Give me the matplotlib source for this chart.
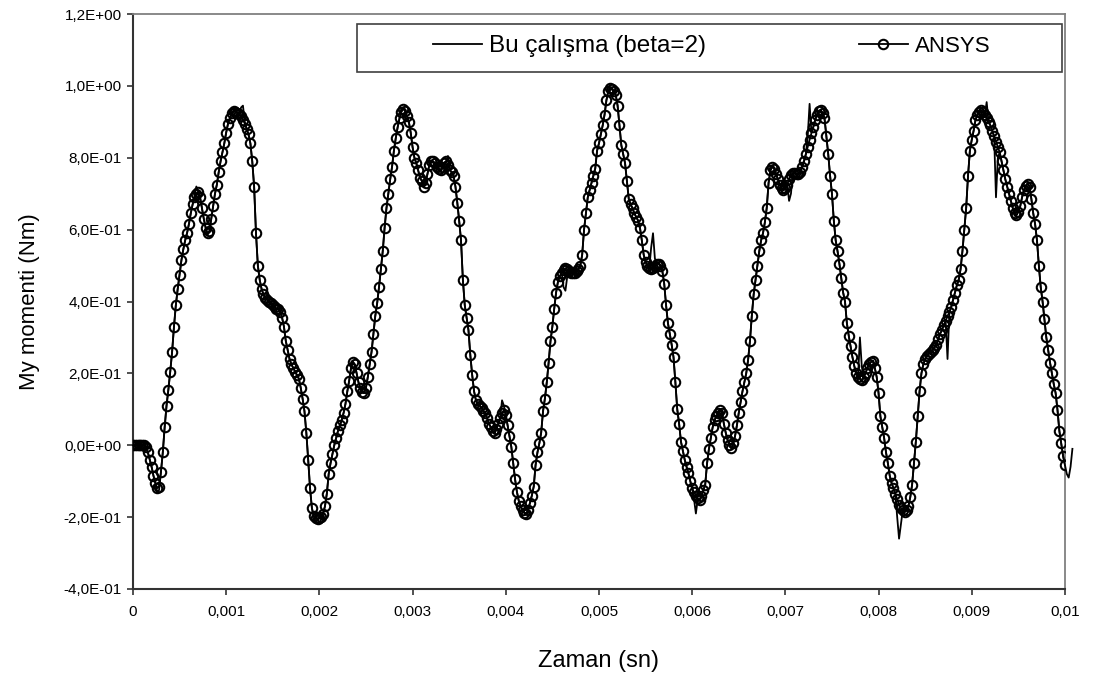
import numpy as np
import matplotlib
matplotlib.use('Agg')
import matplotlib.pyplot as plt
from matplotlib.ticker import FuncFormatter, MultipleLocator
from matplotlib.patches import Rectangle

plt.rcParams['font.family'] = ['Liberation Sans', 'DejaVu Sans']

dt = 2e-5  # zaman adımı (sn)

# ANSYS sonuçları, My momenti (Nm)
ansys_my = [
    0, 0, 0, 0, 0, 0, 0, -0.005, -0.02, -0.04,
    -0.06, -0.085, -0.105, -0.118, -0.115, -0.075, -0.02, 0.05, 0.11, 0.155,
    0.205, 0.26, 0.33, 0.39, 0.435, 0.475, 0.515, 0.545, 0.57, 0.59,
    0.615, 0.645, 0.67, 0.69, 0.70, 0.705, 0.69, 0.66, 0.63, 0.605,
    0.59, 0.595, 0.63, 0.665, 0.70, 0.725, 0.76, 0.79, 0.815, 0.84,
    0.87, 0.895, 0.91, 0.925, 0.93, 0.928, 0.925, 0.922, 0.915, 0.905,
    0.895, 0.88, 0.865, 0.84, 0.79, 0.72, 0.59, 0.50, 0.46, 0.435,
    0.42, 0.41, 0.405, 0.40, 0.395, 0.39, 0.385, 0.38, 0.378, 0.372,
    0.355, 0.33, 0.29, 0.265, 0.24, 0.225, 0.215, 0.205, 0.195, 0.185,
    0.16, 0.13, 0.095, 0.035, -0.04, -0.12, -0.175, -0.198, -0.203, -0.205,
    -0.203, -0.2, -0.19, -0.17, -0.135, -0.08, -0.05, -0.025, 0.0, 0.02,
    0.04, 0.055, 0.07, 0.09, 0.115, 0.15, 0.18, 0.215, 0.232, 0.225,
    0.2, 0.175, 0.16, 0.148, 0.145, 0.16, 0.19, 0.225, 0.26, 0.31,
    0.36, 0.395, 0.44, 0.49, 0.54, 0.605, 0.66, 0.70, 0.74, 0.775,
    0.82, 0.855, 0.885, 0.91, 0.928, 0.937, 0.93, 0.915, 0.9, 0.87,
    0.83, 0.8, 0.785, 0.765, 0.745, 0.735, 0.72, 0.73, 0.755, 0.78,
    0.79, 0.79, 0.785, 0.775, 0.77, 0.765, 0.775, 0.785, 0.79, 0.78,
    0.765, 0.76, 0.75, 0.72, 0.675, 0.625, 0.57, 0.46, 0.39, 0.355,
    0.32, 0.25, 0.195, 0.15, 0.125, 0.115, 0.11, 0.105, 0.095, 0.09,
    0.075, 0.06, 0.05, 0.04, 0.033, 0.045, 0.06, 0.075, 0.09, 0.098,
    0.085, 0.055, 0.025, -0.005, -0.05, -0.095, -0.13, -0.155, -0.17, -0.18,
    -0.188, -0.19, -0.18, -0.16, -0.14, -0.115, -0.055, -0.02, 0.005, 0.035,
    0.095, 0.13, 0.175, 0.23, 0.29, 0.33, 0.38, 0.425, 0.455, 0.47,
    0.48, 0.488, 0.492, 0.49, 0.485, 0.48, 0.478, 0.48, 0.485, 0.49,
    0.5, 0.53, 0.6, 0.645, 0.69, 0.71, 0.73, 0.75, 0.77, 0.82,
    0.84, 0.865, 0.89, 0.92, 0.96, 0.985, 0.993, 0.99, 0.985, 0.975,
    0.945, 0.89, 0.835, 0.81, 0.785, 0.735, 0.685, 0.67, 0.66, 0.645,
    0.635, 0.625, 0.605, 0.57, 0.53, 0.51, 0.5, 0.493, 0.49, 0.492,
    0.5, 0.505, 0.505, 0.5, 0.485, 0.45, 0.39, 0.34, 0.31, 0.28,
    0.245, 0.175, 0.1, 0.06, 0.01, -0.015, -0.04, -0.06, -0.078, -0.1,
    -0.12, -0.13, -0.14, -0.148, -0.152, -0.14, -0.125, -0.11, -0.05, -0.01,
    0.02, 0.05, 0.07, 0.08, 0.09, 0.097, 0.09, 0.06, 0.035, 0.015,
    0.0, -0.008, 0.005, 0.025, 0.055, 0.09, 0.12, 0.15, 0.175, 0.2,
    0.237, 0.29, 0.36, 0.42, 0.46, 0.5, 0.54, 0.57, 0.59, 0.62,
    0.66, 0.73, 0.765, 0.775, 0.77, 0.755, 0.74, 0.725, 0.715, 0.71,
    0.715, 0.725, 0.74, 0.752, 0.757, 0.757, 0.755, 0.755, 0.76, 0.775,
    0.79, 0.81, 0.83, 0.85, 0.868, 0.885, 0.905, 0.92, 0.93, 0.932,
    0.925, 0.91, 0.86, 0.81, 0.75, 0.7, 0.625, 0.57, 0.54, 0.505,
    0.465, 0.425, 0.4, 0.34, 0.305, 0.275, 0.245, 0.22, 0.2, 0.19,
    0.185, 0.182, 0.19, 0.2, 0.215, 0.225, 0.232, 0.235, 0.215, 0.19,
    0.145, 0.08, 0.05, 0.02, -0.02, -0.05, -0.085, -0.105, -0.12, -0.135,
    -0.15, -0.165, -0.175, -0.18, -0.185, -0.18, -0.17, -0.145, -0.11, -0.05,
    0.01, 0.08, 0.15, 0.2, 0.225, 0.24, 0.248, 0.255, 0.26, 0.265,
    0.272, 0.28, 0.295, 0.31, 0.32, 0.335, 0.345, 0.36, 0.37, 0.385,
    0.405, 0.425, 0.445, 0.46, 0.49, 0.54, 0.6, 0.66, 0.75, 0.82,
    0.85, 0.875, 0.905, 0.92, 0.928, 0.932, 0.928, 0.918, 0.91, 0.9,
    0.89, 0.875, 0.86, 0.845, 0.83, 0.815, 0.79, 0.765, 0.74, 0.72,
    0.7, 0.68, 0.66, 0.645, 0.64, 0.65, 0.665, 0.69, 0.71, 0.722,
    0.728, 0.72, 0.685, 0.645, 0.615, 0.57, 0.5, 0.44, 0.4, 0.35,
    0.3, 0.265, 0.23, 0.2, 0.17, 0.145, 0.098, 0.04, 0.005, -0.03,
    -0.055,
]

# Bu çalışma (beta=2), My momenti (Nm)
calisma_my = [
    0, 0, 0, 0, 0, 0, 0, -0.005, -0.02, -0.04,
    -0.06, -0.085, -0.105, -0.13, -0.125, -0.075, -0.02, 0.05, 0.11, 0.155,
    0.205, 0.26, 0.33, 0.39, 0.435, 0.475, 0.515, 0.545, 0.57, 0.59,
    0.615, 0.645, 0.67, 0.69, 0.72, 0.705, 0.69, 0.66, 0.63, 0.605,
    0.585, 0.595, 0.63, 0.665, 0.70, 0.725, 0.76, 0.79, 0.815, 0.84,
    0.87, 0.895, 0.91, 0.925, 0.93, 0.928, 0.925, 0.922, 0.94, 0.945,
    0.9, 0.88, 0.865, 0.84, 0.79, 0.72, 0.59, 0.50, 0.46, 0.435,
    0.42, 0.41, 0.405, 0.40, 0.395, 0.39, 0.385, 0.38, 0.378, 0.372,
    0.355, 0.33, 0.29, 0.265, 0.24, 0.225, 0.215, 0.205, 0.195, 0.185,
    0.16, 0.13, 0.095, 0.035, -0.04, -0.12, -0.175, -0.198, -0.203, -0.205,
    -0.203, -0.2, -0.19, -0.17, -0.135, -0.08, -0.05, -0.025, 0.0, 0.02,
    0.04, 0.055, 0.07, 0.09, 0.115, 0.15, 0.18, 0.215, 0.232, 0.225,
    0.2, 0.175, 0.16, 0.148, 0.145, 0.16, 0.19, 0.225, 0.26, 0.31,
    0.36, 0.395, 0.44, 0.49, 0.54, 0.605, 0.66, 0.70, 0.74, 0.775,
    0.82, 0.855, 0.885, 0.91, 0.928, 0.937, 0.93, 0.915, 0.9, 0.87,
    0.83, 0.8, 0.785, 0.765, 0.745, 0.735, 0.72, 0.73, 0.755, 0.78,
    0.79, 0.79, 0.785, 0.775, 0.77, 0.765, 0.775, 0.785, 0.79, 0.805,
    0.765, 0.76, 0.75, 0.72, 0.675, 0.625, 0.57, 0.46, 0.39, 0.355,
    0.32, 0.25, 0.195, 0.15, 0.125, 0.115, 0.11, 0.105, 0.095, 0.09,
    0.075, 0.06, 0.05, 0.04, 0.033, 0.045, 0.06, 0.075, 0.125, 0.11,
    0.085, 0.055, 0.025, -0.005, -0.05, -0.095, -0.13, -0.155, -0.17, -0.18,
    -0.188, -0.19, -0.18, -0.16, -0.14, -0.115, -0.055, -0.02, 0.005, 0.035,
    0.095, 0.13, 0.175, 0.23, 0.29, 0.33, 0.38, 0.425, 0.455, 0.47,
    0.48, 0.44, 0.43, 0.47, 0.485, 0.48, 0.478, 0.48, 0.485, 0.49,
    0.5, 0.53, 0.6, 0.645, 0.69, 0.71, 0.73, 0.75, 0.77, 0.82,
    0.84, 0.865, 0.89, 0.92, 0.96, 0.985, 0.993, 0.99, 0.985, 0.975,
    0.945, 0.89, 0.835, 0.81, 0.785, 0.735, 0.685, 0.67, 0.66, 0.645,
    0.635, 0.625, 0.605, 0.57, 0.53, 0.51, 0.5, 0.493, 0.55, 0.59,
    0.52, 0.505, 0.505, 0.5, 0.485, 0.45, 0.39, 0.34, 0.31, 0.28,
    0.245, 0.175, 0.1, 0.06, 0.01, -0.015, -0.04, -0.06, -0.078, -0.1,
    -0.12, -0.15, -0.19, -0.15, -0.152, -0.14, -0.125, -0.11, -0.05, -0.01,
    0.02, 0.05, 0.07, 0.08, 0.09, 0.097, 0.09, 0.06, 0.035, 0.015,
    0.0, -0.008, 0.005, 0.025, 0.055, 0.09, 0.12, 0.15, 0.175, 0.2,
    0.237, 0.29, 0.36, 0.42, 0.46, 0.5, 0.54, 0.57, 0.59, 0.62,
    0.66, 0.73, 0.765, 0.775, 0.77, 0.755, 0.74, 0.725, 0.715, 0.71,
    0.715, 0.725, 0.68, 0.70, 0.757, 0.757, 0.755, 0.755, 0.76, 0.775,
    0.79, 0.81, 0.86, 0.95, 0.87, 0.885, 0.905, 0.92, 0.93, 0.932,
    0.925, 0.91, 0.86, 0.81, 0.75, 0.7, 0.625, 0.57, 0.54, 0.505,
    0.465, 0.425, 0.4, 0.34, 0.305, 0.275, 0.245, 0.22, 0.2, 0.19,
    0.3, 0.22, 0.19, 0.2, 0.215, 0.225, 0.232, 0.235, 0.215, 0.19,
    0.145, 0.08, 0.05, 0.02, -0.02, -0.05, -0.085, -0.105, -0.12, -0.135,
    -0.2, -0.26, -0.22, -0.18, -0.185, -0.18, -0.17, -0.145, -0.11, -0.05,
    0.01, 0.08, 0.15, 0.2, 0.225, 0.24, 0.248, 0.255, 0.26, 0.265,
    0.272, 0.28, 0.295, 0.31, 0.32, 0.335, 0.345, 0.24, 0.37, 0.385,
    0.405, 0.425, 0.445, 0.46, 0.49, 0.54, 0.6, 0.66, 0.75, 0.82,
    0.85, 0.875, 0.905, 0.92, 0.928, 0.932, 0.928, 0.918, 0.955, 0.9,
    0.89, 0.875, 0.86, 0.69, 0.8, 0.815, 0.79, 0.765, 0.74, 0.72,
    0.7, 0.68, 0.66, 0.645, 0.64, 0.65, 0.665, 0.69, 0.71, 0.722,
    0.728, 0.72, 0.685, 0.645, 0.615, 0.57, 0.5, 0.44, 0.4, 0.35,
    0.3, 0.265, 0.23, 0.2, 0.17, 0.145, 0.098, 0.04, 0.005, -0.03,
    -0.055, -0.08, -0.09, -0.06, -0.01,
]

t_ansys = np.arange(len(ansys_my)) * dt
t_calisma = np.arange(len(calisma_my)) * dt


def fmt_x(v, pos):
    s = f'{v:.3f}'.rstrip('0').rstrip('.')
    return s.replace('.', ',')


def fmt_y(v, pos):
    v = round(v, 6)
    if abs(v) < 1e-9:
        v = 0.0
    return f'{v:.1E}'.replace('.', ',')


fig = plt.figure(figsize=(10.98, 6.77), dpi=100)
ax = fig.add_axes([0.1211, 0.13, 0.8488, 0.8493])

h1, = ax.plot(t_calisma, calisma_my, color='black', lw=1.3, clip_on=False, zorder=3)
h2, = ax.plot(t_ansys, ansys_my, color='black', lw=1.3, marker='o', ms=6.8,
              mfc='none', mec='black', mew=1.5, zorder=4)

ax.set_xlim(0, 0.01)
ax.set_ylim(-0.4, 1.2)
ax.xaxis.set_major_locator(MultipleLocator(0.001))
ax.yaxis.set_major_locator(MultipleLocator(0.2))
ax.xaxis.set_major_formatter(FuncFormatter(fmt_x))
ax.yaxis.set_major_formatter(FuncFormatter(fmt_y))

for side in ['top', 'right']:
    ax.spines[side].set_color('#808080')
    ax.spines[side].set_linewidth(1.3)
for side in ['left', 'bottom']:
    ax.spines[side].set_color('#333333')
    ax.spines[side].set_linewidth(1.5)

ax.tick_params(axis='both', direction='out', length=4.5, width=1.2,
               color='#333333', labelsize=11)
ax.tick_params(axis='y', pad=3.5)
ax.tick_params(axis='x', pad=7)
ax.tick_params(top=False, right=False)

ax.set_xlabel('Zaman (sn)', fontsize=17, labelpad=22)
ax.set_ylabel('My momenti (Nm)', fontsize=16, labelpad=17)

# lejant çerçevesi ve iki giriş
ax.add_patch(Rectangle((0.2403, 0.899), 0.7565, 0.0836, transform=ax.transAxes,
                       facecolor='white', edgecolor='#404040', lw=1.2, zorder=5))
leg1 = ax.legend([h1], ['Bu çalışma (beta=2)'], loc='center left',
                 bbox_to_anchor=(0.3219, 0.9443), frameon=False, fontsize=17.5,
                 handlelength=2.0, handletextpad=0.3, borderpad=0, borderaxespad=0)
leg1.set_zorder(6)
ax.add_artist(leg1)
leg2 = ax.legend([h2], ['ANSYS'], loc='center left',
                 bbox_to_anchor=(0.779, 0.9443), frameon=False, fontsize=16,
                 handlelength=2.2, handletextpad=0.3, borderpad=0, borderaxespad=0)
leg2.set_zorder(6)

fig.savefig('out.png', dpi=100)
